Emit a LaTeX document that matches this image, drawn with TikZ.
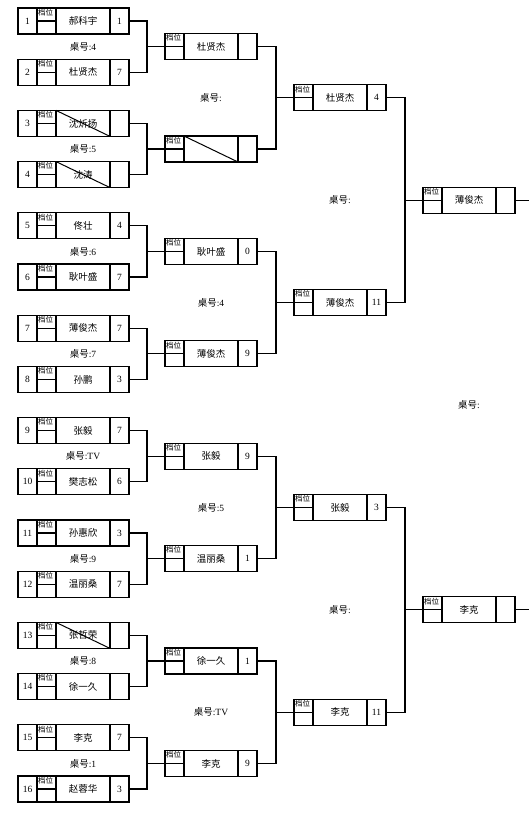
\documentclass[tikz,border=0pt]{standalone}
\usepackage{fontspec}
\setmainfont{Liberation Serif}
\newfontfamily\cjk{Noto Sans CJK SC}
\usetikzlibrary{positioning, calc}

\begin{document}
\begin{tikzpicture}[
    x=1pt, y=-1pt,
    cell/.style={draw, line width=1.3pt, minimum height=26pt, inner sep=0pt, outer sep=0pt, font=\fontsize{9.5}{11}\selectfont},
    numcell/.style={cell, minimum width=19pt},
    poscell/.style={cell, minimum width=19pt},
    namecell/.style={cell, minimum width=54pt, font=\cjk\fontsize{9.5}{11}\selectfont},
    scorecell/.style={cell, minimum width=19pt},
    postag/.style={anchor=north west, inner sep=0.8pt, font=\cjk\fontsize{7.5}{7.5}\selectfont},
    desk/.style={inner sep=1pt, font=\fontsize{9.5}{11}\selectfont},
    wire/.style={line width=1.3pt},
    strike/.style={line width=1pt},
    node distance=0pt
]
    \useasboundingbox (0,0) rectangle (528,818);

    % Round 1: sixteen players
    \foreach \i/\nm/\sc in {1/郝科宇/1, 2/杜贤杰/7, 3/沈炘扬/{}, 4/沈涛/{}, 5/佟壮/4, 6/耿叶盛/7, 7/薄俊杰/7, 8/孙鹏/3,
                            9/张毅/7, 10/樊志松/6, 11/孙惠欣/3, 12/温丽桑/7, 13/张哲荣/{}, 14/徐一久/{}, 15/李克/7, 16/赵蓉华/3} {
        \pgfmathsetmacro\yc{21+51.2*(\i-1)}
        \node[numcell] (p\i-num) at (27.5,\yc) {\i};
        \node[poscell, right=of p\i-num] (p\i-pos) {};
        \node[namecell, right=of p\i-pos] (p\i-name) {\nm};
        \node[scorecell, right=of p\i-name] (p\i-score) {\sc};
        \draw[wire] (p\i-pos.west) -- (p\i-pos.east);
        \node[postag] (p\i-tag) at (p\i-pos.north west) {档位};
    }

    % Round 2
    \foreach \j/\nm/\sc in {1/杜贤杰/{}, 2/{}/{}, 3/耿叶盛/0, 4/薄俊杰/9, 5/张毅/9, 6/温丽桑/1, 7/徐一久/1, 8/李克/9} {
        \pgfmathsetmacro\yc{46.6+102.4*(\j-1)}
        \node[poscell] (q\j-pos) at (174.5,\yc) {};
        \node[namecell, right=of q\j-pos] (q\j-name) {\nm};
        \node[scorecell, right=of q\j-name] (q\j-score) {\sc};
        \draw[wire] (q\j-pos.west) -- (q\j-pos.east);
        \node[postag] (q\j-tag) at (q\j-pos.north west) {档位};
    }

    % Round 3
    \foreach \k/\nm/\sc in {1/杜贤杰/4, 2/薄俊杰/11, 3/张毅/3, 4/李克/11} {
        \pgfmathsetmacro\yc{97.8+204.8*(\k-1)}
        \node[poscell] (t\k-pos) at (303.5,\yc) {};
        \node[namecell, right=of t\k-pos] (t\k-name) {\nm};
        \node[scorecell, right=of t\k-name] (t\k-score) {\sc};
        \draw[wire] (t\k-pos.west) -- (t\k-pos.east);
        \node[postag] (t\k-tag) at (t\k-pos.north west) {档位};
    }

    % Round 4
    \foreach \m/\nm in {1/薄俊杰, 2/李克} {
        \pgfmathsetmacro\yc{200.2+409.6*(\m-1)}
        \node[poscell] (f\m-pos) at (432.5,\yc) {};
        \node[namecell, right=of f\m-pos] (f\m-name) {\nm};
        \node[scorecell, right=of f\m-name] (f\m-score) {};
        \draw[wire] (f\m-pos.west) -- (f\m-pos.east);
        \node[postag] (f\m-tag) at (f\m-pos.north west) {档位};
        \draw[wire] (f\m-score.east) -- ++(14,0);
    }

    % Withdrawn players
    \foreach \i in {3,4,13} \draw[strike] (p\i-name.north west) -- (p\i-name.south east);
    \draw[strike] (q2-name.north west) -- (q2-name.south east);

    % Brackets and table labels
    \foreach \j/\d in {1/4, 2/5, 3/6, 4/7, 5/TV, 6/9, 7/8, 8/1} {
        \pgfmathtruncatemacro\a{2*\j-1}
        \pgfmathtruncatemacro\b{2*\j}
        \draw[wire] (p\a-score.east) -- ++(18,0) |- (p\b-score.east);
        \draw[wire] (q\j-pos.west) -- ++(-18,0);
        \node[desk] (d1-\j) at ($(p\a-name)!.5!(p\b-name)$) {{\cjk 桌号}:\d};
    }
    \foreach \k/\d in {1/{}, 2/4, 3/5, 4/TV} {
        \pgfmathtruncatemacro\a{2*\k-1}
        \pgfmathtruncatemacro\b{2*\k}
        \draw[wire] (q\a-score.east) -- ++(19,0) |- (q\b-score.east);
        \draw[wire] (t\k-pos.west) -- ++(-18,0);
        \node[desk] (d2-\k) at ($(q\a-name)!.5!(q\b-name)$) {{\cjk 桌号}:\d};
    }
    \foreach \m in {1,2} {
        \pgfmathtruncatemacro\a{2*\m-1}
        \pgfmathtruncatemacro\b{2*\m}
        \draw[wire] (t\a-score.east) -- ++(19,0) |- (t\b-score.east);
        \draw[wire] (f\m-pos.west) -- ++(-18,0);
        \node[desk] (d3-\m) at ($(t\a-name)!.5!(t\b-name)$) {{\cjk 桌号}:};
    }
    \node[desk] (d4) at ($(f1-name)!.5!(f2-name)$) {{\cjk 桌号}:};

\end{tikzpicture}
\end{document}
